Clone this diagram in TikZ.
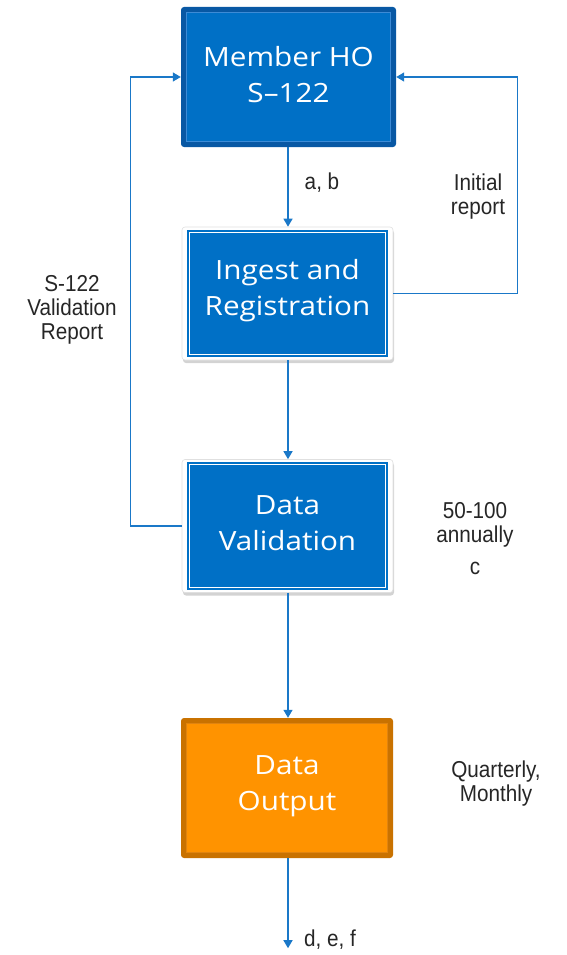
\documentclass[tikz,border=0pt]{standalone}
\usepackage{fontspec}
\setmainfont{Liberation Sans}
\newfontfamily\boxfont[FakeStretch=1.12]{Open Sans}
\newfontfamily\lblfont[FakeStretch=0.9]{Liberation Sans}
\usetikzlibrary{arrows.meta,shadows,calc}
\definecolor{bfill}{HTML}{0070C6}
\definecolor{bdark}{HTML}{0858A4}
\definecolor{bline}{HTML}{3D8BD6}
\definecolor{ofill}{HTML}{FF9300}
\definecolor{odark}{HTML}{C97200}
\definecolor{oline}{HTML}{E08410}
\definecolor{conncol}{HTML}{1A78C8}
\tikzset{
  boxtext/.style={text=white, font=\boxfont\fontsize{26.5}{36}\selectfont, align=center, inner sep=0pt},
  memberbox/.style={boxtext, fill=bdark, rounded corners=3pt, minimum width=215pt, minimum height=140pt},
  procbox/.style={boxtext, fill=white, draw=black!12, line width=0.6pt, rounded corners=3pt, minimum width=211pt, minimum height=133pt,
     drop shadow={shadow xshift=1pt, shadow yshift=-3pt, opacity=0.35, fill=gray}},
  outbox/.style={boxtext, fill=odark, rounded corners=3pt, minimum width=212pt, minimum height=140pt},
  conn/.style={draw=conncol, line width=1.3pt, -{Triangle[length=8pt,width=9pt]}},
  lbl/.style={font=\lblfont\fontsize{23}{24}\selectfont, align=center, text=black!85, inner sep=0pt},
}
\begin{document}
\begin{tikzpicture}[x=1pt,y=-1pt]
\useasboundingbox (0,0) rectangle (566,955);
% Member HO
\node[memberbox] (member) at (288.5,77) {\phantom{X}};
\fill[bfill, draw=bline, line width=0.8pt] ($(member.north west)+(6,6)$) rectangle ($(member.south east)+(-6,-6)$);
\node[boxtext] (membertxt) at (288.5,75) {Member HO\\S–122};
% Ingest
\node[procbox] (ingest) at (287.5,293.5) {\phantom{X}};
\fill[bfill] ($(ingest.north west)+(5,3)$) rectangle ($(ingest.south east)+(-5,-3)$);
\draw[white, line width=0.8pt] ($(ingest.north west)+(7.5,5.5)$) rectangle ($(ingest.south east)+(-7.5,-5.5)$);
\node[boxtext] (ingesttxt) at (287.5,291) {Ingest and\\Registration};
% Validation
\node[procbox] (valid) at (287.5,526) {\phantom{X}};
\fill[bfill] ($(valid.north west)+(5,3)$) rectangle ($(valid.south east)+(-5,-3)$);
\draw[white, line width=0.8pt] ($(valid.north west)+(7.5,5.5)$) rectangle ($(valid.south east)+(-7.5,-5.5)$);
\node[boxtext] (validtxt) at (287.5,523) {Data\\Validation};
% Output
\node[outbox] (output) at (287,788) {\phantom{X}};
\fill[ofill, draw=oline, line width=0.8pt] ($(output.north west)+(6,6)$) rectangle ($(output.south east)+(-6,-6)$);
\node[boxtext] (outputtxt) at (287,786) {Data\\Output};
% connectors
\draw[conn] (member.south -| 288,0) -- (ingest.north -| 288,0);
\draw[conn] (ingest.south -| 288,0) -- (valid.north -| 288,0);
\draw[conn] (valid.south -| 288,0) -- (output.north -| 288,0);
\draw[conn] (output.south -| 288,0) -- ++(0,90) coordinate (outend);
\draw[conn] (valid.west) -- ++(-51,0) |- (member.west);
\draw[conn] (ingest.east) -- ++(124,0) |- (member.east);
% labels
\node[lbl] (lab) at (322,183) {a, b};
\node[lbl] (linit) at (478,197) {Initial\\report};
\node[lbl] (lval) at (72,310) {S-122\\Validation\\Report};
\node[lbl] (lann) at (475,539) {50-100\\annually\\[8pt]c};
\node[lbl] (lq) at (496,784) {Quarterly,\\Monthly};
\node[lbl] (ldef) at (330,940) {d, e, f};
\end{tikzpicture}
\end{document}
